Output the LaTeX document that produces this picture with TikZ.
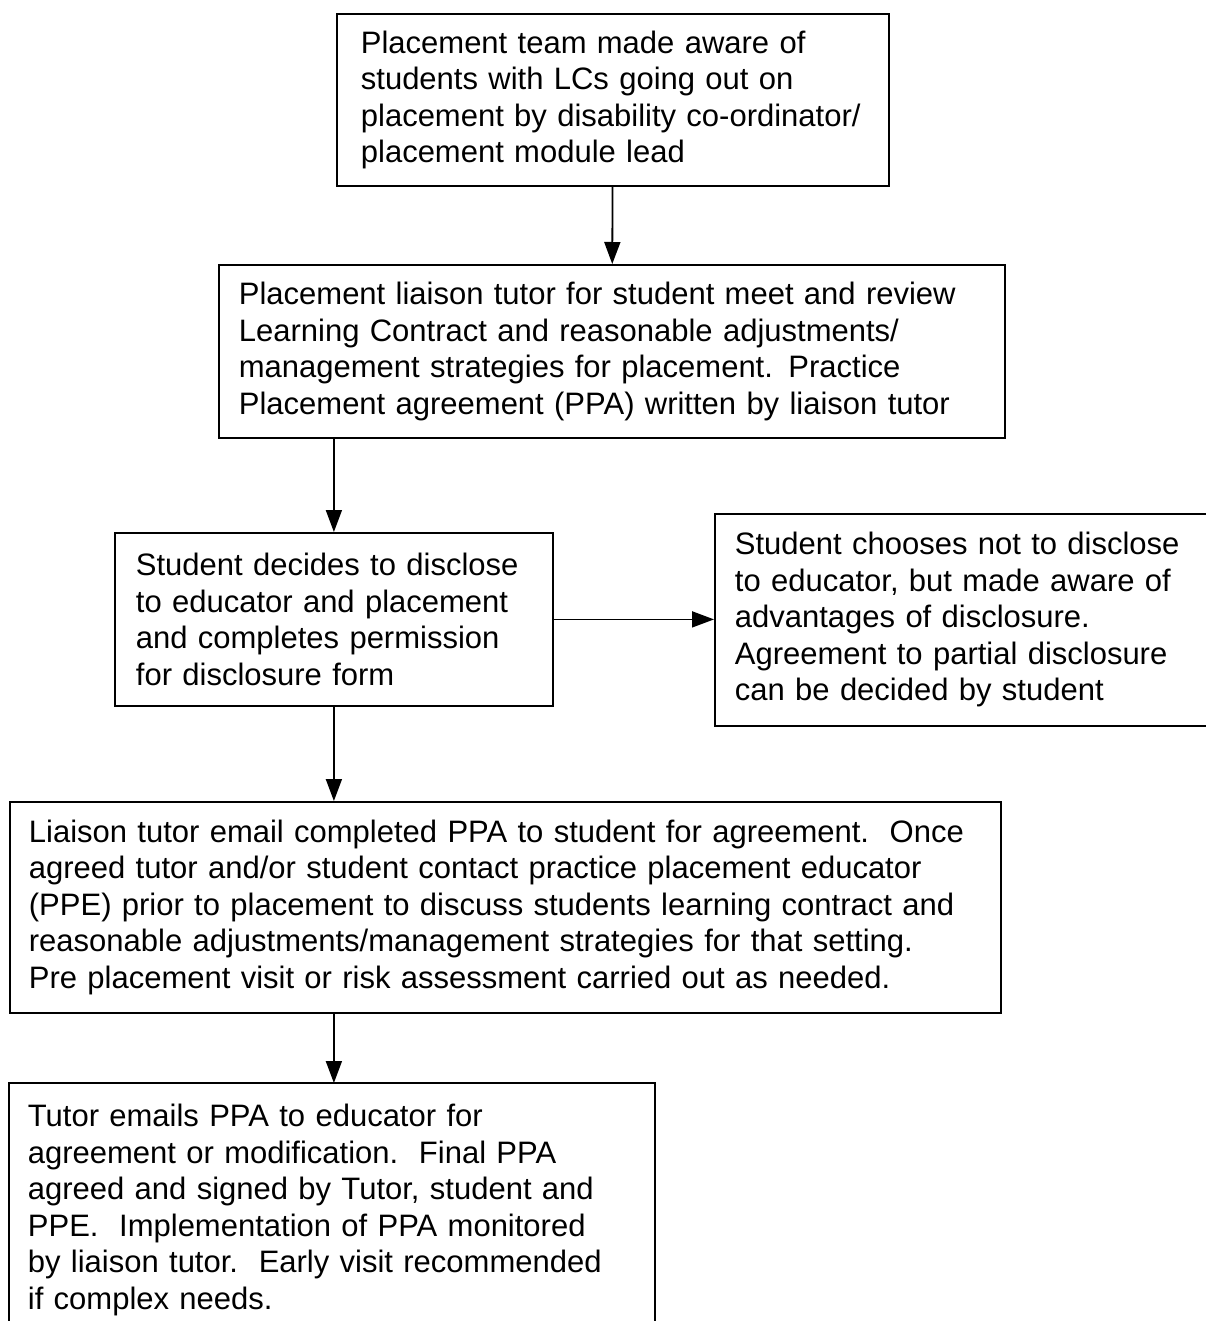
\documentclass[tikz,border=0pt]{standalone}
\usepackage{fontspec}
\setmainfont{Liberation Sans}
\usepackage{tikz}
\usetikzlibrary{arrows.meta}
\hyphenpenalty=10000

\begin{document}
\begin{tikzpicture}[x=1pt, y=-1pt,
		box/.style={draw, line width=1.8pt, anchor=north west, align=left, inner xsep=20pt,
			font=\fontsize{31}{36.5}\selectfont},
		arrow/.style={line width=1.8pt, -{Triangle[length=22pt, width=16pt]}}]
		\clip (0, 0) rectangle (1206, 1321);
		\fill[white] (0, 0) rectangle (1206, 1321);
		% boxes, top to bottom
		\node[box, text width=504pt, minimum height=172pt, inner xsep=24pt] (aware) at (336, 13)
			{Placement team made aware of\\ students with LCs going out on\\ placement by disability co-ordinator/\\ placement module lead};
		\node[box, text width=746pt, minimum height=173pt] (review) at (218, 264)
			{Placement liaison tutor for student meet and review\\ Learning Contract and reasonable adjustments/\\ management strategies for placement. Practice\\ Placement agreement (PPA) written by liaison tutor};
		\node[box, text width=396pt, minimum height=173pt, inner xsep=21pt] (disclose) at (114, 532)
			{Student decides to disclose\\ to educator and placement\\ and completes permission\\ for disclosure form};
		\node[box, text width=470pt, minimum height=212pt] (nodisclose) at (714, 513)
			{Student chooses not to disclose\\ to educator, but made aware of\\ advantages of disclosure.\\ Agreement to partial disclosure\\ can be decided by student};
		\node[box, text width=953pt, minimum height=211pt, inner xsep=19pt] (agreement) at (9, 801)
			{Liaison tutor email completed PPA to student for agreement.\ \ Once\\ agreed tutor and/or student contact practice placement educator\\ (PPE) prior to placement to discuss students learning contract and\\ reasonable adjustments/management strategies for that setting.\\ Pre placement visit or risk assessment carried out as needed.};
		\node[box, draw=none, text width=608pt, minimum height=252pt, inner xsep=18pt] (educator) at (9, 1083)
			{Tutor emails PPA to educator for\\ agreement or modification.\ \ Final PPA\\ agreed and signed by Tutor, student and\\ PPE.\ \ Implementation of PPA monitored\\ by liaison tutor.\ \ Early visit recommended\\ if complex needs.};
		\draw[line width=1.8pt] (educator.south west) -- (educator.north west) -- (educator.north east) -- (educator.south east);
		% arrows
		\draw[arrow] (aware) -- (review);
		\draw[arrow] (review.south -| disclose.north) -- (disclose.north);
		\draw[arrow] (disclose.east) -- (disclose.east -| nodisclose.west);
		\draw[arrow] (disclose.south) -- (disclose.south |- agreement.north);
		\draw[arrow] (disclose.south |- agreement.south) -- (disclose.south |- educator.north);
	\end{tikzpicture}
\end{document}
